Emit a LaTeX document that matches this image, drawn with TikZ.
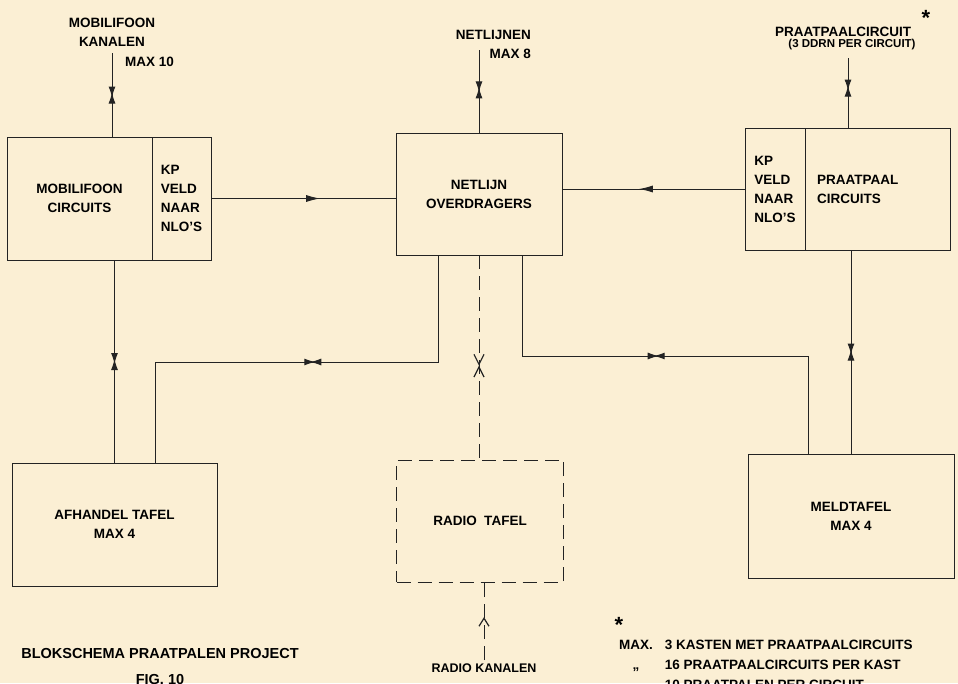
\documentclass[tikz,border=0pt]{standalone}
\usepackage{fontspec}
\setmainfont{Liberation Sans}
\usepackage{tikz}
\usetikzlibrary{arrows.meta, positioning, decorations.markings}
\definecolor{paper}{RGB}{251,239,212}
\definecolor{ink}{RGB}{35,35,35}
\tikzstyle{blok}=[rectangle, draw=ink, line width=1pt, inner sep=0pt, outer sep=0pt,
  align=center, font=\fontsize{13.5}{19}\selectfont\bfseries]
\tikzstyle{lbl}=[inner sep=0pt, align=center, font=\fontsize{13.5}{19}\selectfont\bfseries]
\tikzstyle{wire}=[draw=ink, line width=1pt]
\tikzstyle{stippel}=[dash pattern=on 14pt off 7pt]
\tikzset{
  midarrow/.style={postaction={decorate}, decoration={markings,
    mark=at position #1 with {\arrow{Latex[length=14pt,width=7pt]}}}},
  bowtie/.style={postaction={decorate}, decoration={markings,
    mark=at position #1 with {\arrow[xshift=2.5pt]{Latex[length=11pt,width=7pt]}\arrowreversed[xshift=-2.5pt]{Latex[length=11pt,width=7pt]}}}},
  kruis/.style={postaction={decorate}, decoration={markings,
    mark=at position #1 with {\arrow[line width=1.2pt]{Straight Barb[length=10pt,width=10pt]}\arrowreversed[line width=1.2pt]{Straight Barb[length=10pt,width=10pt]}}}},
  openarrow/.style={postaction={decorate}, decoration={markings,
    mark=at position #1 with {\arrow[line width=1.2pt]{Straight Barb[length=8pt,width=10pt]}}}}
}

\begin{document}
\begin{tikzpicture}[x=1pt, y=-1pt, node distance=6pt]
  \fill[paper] (0,0) rectangle (958,683);
  \useasboundingbox (0,0) rectangle (958,683);

  % blokken
  \node[blok, minimum width=145pt, minimum height=123pt] (mob) at (79.5,198.5) {MOBILIFOON\\CIRCUITS};
  \node[blok, minimum width=59pt, minimum height=123pt, right=0pt of mob, align=left] (mobkp) {KP\\VELD\\NAAR\\NLO'S};
  \node[blok, minimum width=166pt, minimum height=122pt] (net) at (479,194) {NETLIJN\\OVERDRAGERS};
  \node[blok, minimum width=60pt, minimum height=122pt, align=left] (ppkp) at (775,189) {KP\\VELD\\NAAR\\NLO'S};
  \node[blok, minimum width=145pt, minimum height=122pt, right=0pt of ppkp, text width=121pt, align=left] (ppcirc) {PRAATPAAL\\CIRCUITS};
  \node[blok, minimum width=205pt, minimum height=123pt] (afh) at (114.5,524.5) {AFHANDEL TAFEL\\MAX 4};
  \node[blok, stippel, minimum width=167pt, minimum height=122pt] (radio) at (480,521) {RADIO\ \ TAFEL};
  \node[blok, minimum width=206pt, minimum height=124pt] (meld) at (851,516) {MELDTAFEL\\MAX 4};

  % ingangen boven
  \coordinate (mobkan) at (112,53);
  \coordinate (netkan) at (479,50);
  \coordinate (ppkan) at (848,58);
  \node[lbl, above=6pt of mobkan] {MOBILIFOON\\KANALEN};
  \node[lbl, anchor=west] at (125,62) {MAX 10};
  \node[lbl, anchor=east, align=right] at (531,44) {NETLIJNEN\\MAX 8};
  \node[lbl] at (843,32) {PRAATPAALCIRCUIT};
  \node[lbl, font=\fontsize{11.5}{14}\selectfont\bfseries] at (852,45) {(3 DDRN PER CIRCUIT)};
  \node[lbl, font=\fontsize{22}{22}\selectfont\bfseries] at (926,18) {*};

  \draw[wire, bowtie=0.5] (mobkan) -- (mobkan |- mob.north);
  \draw[wire, bowtie=0.48] (netkan) -- (netkan |- net.north);
  \draw[wire, bowtie=0.43] (ppkan) -- (ppkan |- ppcirc.north);

  \draw[wire, midarrow=0.59] (mobkp.east) -- (net.west |- mobkp.east);
  \draw[wire, midarrow=0.58] (ppkp.west) -- (net.east |- ppkp.west);

  % verbindingen onder
  \coordinate (lbend) at (438,362);
  \coordinate (rbend) at (522,356);
  \draw[wire, bowtie=0.5] (afh.north) -- (afh.north |- mob.south);
  \draw[wire, bowtie=0.527] ([xshift=40.5pt]afh.north) |- (lbend) -- (lbend |- net.south);
  \draw[wire, stippel, kruis=0.54] (net.south) -- (net.south |- radio.north);
  \draw[wire, bowtie=0.485] (net.south -| rbend) -- (rbend) -| ([xshift=-43pt]meld.north);
  \draw[wire, bowtie=0.5] (meld.north) -- (meld.north |- ppcirc.south);

  \coordinate (radkan) at (484,660);
  \draw[wire, stippel, openarrow=0.55] (radkan) -- (radkan |- radio.south);
  \node[lbl, font=\fontsize{12.5}{14}\selectfont\bfseries, below=4pt of radkan] {RADIO KANALEN};

  % onderschrift en voetnoot
  \node[lbl, font=\fontsize{14.5}{17}\selectfont\bfseries] (titel) at (160,653) {BLOKSCHEMA PRAATPALEN PROJECT};
  \node[lbl, font=\fontsize{14.5}{17}\selectfont\bfseries, below=16pt of titel] {FIG. 10};
  \node[lbl, font=\fontsize{22}{22}\selectfont\bfseries] at (619,625) {*};
  \node[lbl, anchor=west] at (619,665) {\fontsize{13.5}{20}\selectfont\begin{tabular}{@{}c@{\hspace{12pt}}l@{}}
    MAX. & 3 KASTEN MET PRAATPAALCIRCUITS\\
    ,, & 16 PRAATPAALCIRCUITS PER KAST\\
    ,, & 10 PRAATPALEN PER CIRCUIT
  \end{tabular}};
\end{tikzpicture}
\end{document}
